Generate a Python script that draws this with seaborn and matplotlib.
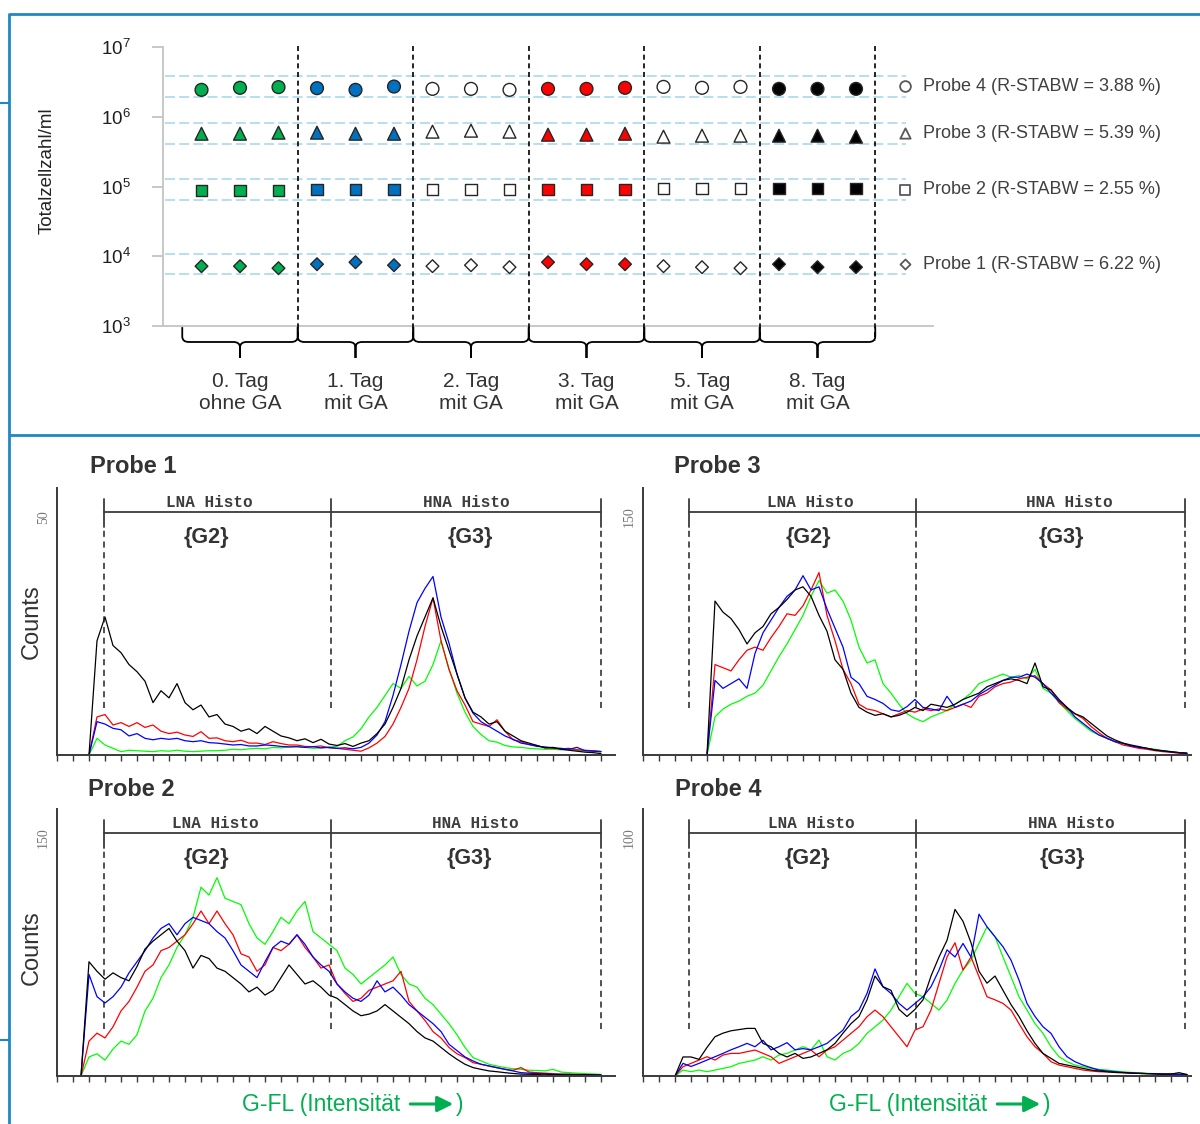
import numpy as np
import pandas as pd
import matplotlib
matplotlib.use("Agg")
import matplotlib.pyplot as plt
import seaborn as sns
from matplotlib.path import Path
from matplotlib.patches import PathPatch

sns.set_theme(style="white")
plt.rcParams["font.family"] = ["Liberation Sans", "DejaVu Sans"]
plt.rcParams["mathtext.fontset"] = "custom"
plt.rcParams["mathtext.rm"] = "Liberation Sans"
plt.rcParams["mathtext.it"] = "Liberation Sans:italic"
plt.rcParams["mathtext.bf"] = "Liberation Sans:bold"

# ---------------------------------------------------------------- data
days = ["0. Tag\nohne GA", "1. Tag\nmit GA", "2. Tag\nmit GA",
        "3. Tag\nmit GA", "5. Tag\nmit GA", "8. Tag\nmit GA"]
day_colors = ["#00b050", "#0070c0", "#ffffff", "#ff0000", "#ffffff", "#000000"]

probes = ["Probe 4", "Probe 3", "Probe 2", "Probe 1"]
rstabw = [3.88, 5.39, 2.55, 6.22]

# total cell counts per ml, three replicates per day
probe4_counts = [2.43e6, 2.60e6, 2.66e6, 2.57e6, 2.43e6, 2.71e6,
                 2.51e6, 2.51e6, 2.43e6, 2.51e6, 2.51e6, 2.60e6,
                 2.68e6, 2.60e6, 2.68e6, 2.51e6, 2.51e6, 2.51e6]
probe3_counts = [5.71e5, 5.71e5, 5.91e5, 5.91e5, 5.71e5, 5.71e5,
                 6.11e5, 6.31e5, 6.11e5, 5.53e5, 5.53e5, 5.71e5,
                 5.18e5, 5.35e5, 5.35e5, 5.35e5, 5.35e5, 5.18e5]
probe2_counts = [8.77e4, 8.77e4, 8.77e4, 9.06e4, 9.06e4, 9.06e4,
                 9.06e4, 9.06e4, 9.06e4, 9.06e4, 9.06e4, 9.06e4,
                 9.36e4, 9.36e4, 9.36e4, 9.36e4, 9.36e4, 9.36e4]
probe1_counts = [7.20e3, 7.20e3, 6.74e3, 7.69e3, 8.21e3, 7.44e3,
                 7.20e3, 7.44e3, 6.97e3, 8.21e3, 7.69e3, 7.69e3,
                 7.20e3, 6.97e3, 6.74e3, 7.69e3, 6.97e3, 6.97e3]
probe_counts = {"Probe 4": probe4_counts, "Probe 3": probe3_counts,
                "Probe 2": probe2_counts, "Probe 1": probe1_counts}

# tolerance band (lower, upper) per sample
band_limits = {"Probe 4": (1.93e6, 3.85e6), "Probe 3": (4.11e5, 8.2e5),
               "Probe 2": (6.5e4, 1.26e5), "Probe 1": (5.53e3, 1.07e4)}

# flow-cytometry histograms (counts per channel)
chan_a = np.arange(16, 273, 4)   # Probe 1, Probe 4
chan_b = np.arange(32, 273, 4)   # Probe 3
chan_c = np.arange(12, 273, 4)   # Probe 2

p1_black = [0, 24, 29, 23, 21.5, 19, 17.5, 15.5, 11, 13.5, 12, 15, 11, 9.5, 10.5, 8, 8.5, 6.5,
            6, 5, 5.5, 4.5, 6, 5, 4, 3.6, 3, 3.4, 2.6, 3.3, 2.3, 2.0, 2.4, 1.8, 2.5,
            3, 4.5, 6.5, 10, 14, 20, 25, 29, 33, 27, 22, 17, 12, 9, 8, 6.5, 7, 5, 4, 3,
            2.5, 2, 1.5, 1.6, 1.2, 1.0, 0.8, 0.6, 0.5, 0.3]
p1_red = [0, 8, 8.5, 6.3, 6.8, 6, 6.8, 5.8, 6.3, 5, 4.5, 4.8, 4.2, 3.9, 4.9, 3.5, 3.6, 3.0,
          2.8, 3.1, 2.5, 2.5, 2.2, 2.8, 2.4, 2.1, 2.1, 1.8, 1.75, 1.9, 1.5, 1.4, 1.2, 1.0, 0.8,
          1.5, 2.5, 3.9, 6.5, 10, 14, 20, 27, 33, 24, 18, 13.5, 10.5, 7, 6.5, 6, 7.4, 5, 3.2,
          2.8, 2.2, 2, 1.5, 1.4, 1.3, 1.4, 1.1, 1.0, 0.9, 0.7]
p1_blue = [0, 7, 6.5, 5.6, 5.3, 4, 4.5, 3.5, 3.2, 3.5, 3.3, 3.5, 3.0, 2.8, 3.0, 2.6, 2.5, 2.3,
           2.1, 2.2, 1.9, 1.9, 2.1, 2.0, 1.8, 1.7, 1.75, 1.6, 1.75, 1.5, 1.6, 1.4, 1.5, 1.3, 1.6,
           2.5, 4.2, 7, 12.5, 19, 26, 32, 35, 37.5, 29, 23.5, 17, 12, 8.8, 7, 6, 5, 4, 3.3,
           2.5, 2.2, 1.8, 1.7, 1.5, 1.4, 1.2, 1.6, 0.9, 0.8, 0.7]
p1_green = [0, 3.5, 2.1, 1.4, 0.7, 1.0, 0.9, 0.8, 0.7, 0.9, 0.8, 1.0, 0.8, 0.7, 0.8, 0.9, 0.9,
            1.0, 1.2, 1.1, 1.3, 1.4, 1.3, 1.6, 1.5, 1.7, 1.75, 1.6, 1.4, 1.5, 1.7, 1.8, 3, 3.8,
            5.5, 8, 10, 12.5, 15, 14, 16.5, 14.5, 15.5, 19, 24, 18, 13, 9, 6, 4.3, 3, 2.7, 2.0,
            1.7, 1.6, 1.4, 1.3, 1.2, 1.2, 1.1, 1.2, 1.0, 0.9, 0.9, 0.8]

p3_black = [0, 97, 90, 86, 79, 70, 77, 81, 89, 93, 98, 104, 106, 100, 88, 78, 60, 54, 39, 30,
            27, 25, 26, 24, 25, 27, 30, 28, 32, 31, 30, 32, 35, 37, 39, 43, 45, 47, 48, 47,
            45, 58, 43, 41, 35, 30, 26, 24, 20, 16, 12, 9.5, 7.5, 6.3, 5.3, 4.2, 3.2, 2.7, 2.1,
            1.5, 1.2]
p3_red = [0, 57, 55, 53, 60, 66, 68, 66, 74, 81, 89, 88, 94, 104, 115, 88, 72, 54, 45, 32,
          29, 28, 26, 24, 26, 28, 27, 29, 28, 29, 28, 30, 32, 30, 37, 39, 43, 45, 46, 48,
          49, 50, 45, 41, 33, 29, 26, 23, 18, 14, 10.5, 8.4, 6.3, 5.3, 4.2, 3.6, 2.7, 2.1, 1.7,
          1.1, 1.0]
p3_blue = [0, 47, 42, 45, 48, 42, 64, 77, 85, 93, 100, 104, 113, 104, 106, 92, 80, 68, 49, 45,
           37, 35, 32.5, 28.5, 27.5, 30.5, 35, 30, 29, 28, 37, 30, 32, 34, 38, 41, 44, 47, 49, 49,
           51, 49, 45, 39, 34, 30, 24, 20, 16, 12.6, 10.5, 8.4, 7.4, 5.7, 4.8, 4.2, 3.2, 2.5,
           1.9, 1.5, 1.0]
p3_green = [0, 24, 29, 32, 34, 37, 39, 44, 53, 62, 70, 79, 88, 100, 110, 102, 104, 97, 85, 68,
            58, 60, 45, 39, 32, 26, 23, 21, 24, 26, 28, 32, 35, 39, 45, 47, 49, 51, 49, 50,
            48, 54, 42, 39, 33, 28, 23, 19, 15, 12.6, 10.5, 8.4, 7, 5.7, 4.8, 4.2, 3.6, 2.7,
            2.1, 1.5, 1.0]

p2_black = [0, 72, 66, 61, 65, 62, 60, 69, 80, 85, 89, 93, 85, 79, 68, 76, 74, 68, 66, 62,
            58, 53, 56, 51, 54, 62, 70, 64, 58, 60, 56, 51, 49, 45, 41, 38, 39, 41, 45, 41,
            37, 33, 28, 24, 22, 18, 14, 10.5, 7.4, 5.3, 4.2, 3.2, 2.7, 2.1, 1.6, 1.2, 1.1, 1.0,
            1.2, 0.8, 0.9, 1.0, 0.7, 0.8, 0.6, 0.6]
p2_blue = [0, 64, 50, 46, 50, 56, 65, 72, 79, 87, 93, 96, 89, 96, 100, 98, 96, 91, 87, 79,
           70, 66, 62, 72, 81, 85, 83, 89, 83, 75, 70, 66, 58, 53, 49, 47, 51, 60, 53, 56,
           51, 45, 41, 37, 33, 28, 20, 16, 12, 9.5, 7.4, 6.3, 5.2, 4.2, 3.2, 2.1, 1.8, 1.5,
           1.3, 1.1, 1.0, 1.0, 0.9, 0.8, 0.7, 0.6]
p2_red = [0, 22, 27, 24, 31, 41, 47, 56, 66, 70, 79, 81, 85, 89, 96, 104, 96, 104, 96, 89,
          77, 75, 66, 70, 81, 79, 83, 89, 81, 75, 68, 70, 58, 52, 47, 49, 54, 56, 58, 60,
          66, 47, 41, 35, 28, 24, 18, 14, 11.6, 8.4, 7.4, 6.3, 5.3, 4.2, 3.6, 5.3, 2.5, 2.1,
          1.8, 1.5, 1.2, 1.0, 1.0, 0.9, 0.7, 0.6]
p2_green = [0, 12, 14, 10, 17, 22, 20, 26, 41, 49, 62, 70, 81, 89, 100, 119, 114, 125, 112, 110,
            108, 96, 87, 83, 91, 100, 96, 104, 110, 91, 87, 83, 79, 68, 64, 58, 62, 66, 70, 75,
            64, 58, 56, 49, 45, 39, 33, 26, 18, 11.6, 9.5, 7.4, 6.3, 5.3, 4.6, 4.2, 3.6, 3.5,
            3.2, 4.2, 2.5, 2.1, 1.8, 1.5, 1.3, 1.0]

p4_black = [0, 8, 8, 7, 12, 16.5, 18, 19, 19.5, 20, 20, 13.7, 12.3, 9.5, 8, 9.5, 7.4, 8, 9.5, 11,
            13.7, 18, 22, 25, 32, 42, 37.5, 36, 28, 25, 28, 32, 42, 50, 57, 70, 65, 56, 44, 39,
            42, 36, 30, 25, 19, 13.7, 9.5, 7.4, 5.3, 4.6, 3.9, 3.2, 2.5, 2.1, 1.8, 1.5, 1.4,
            1.2, 1.1, 1.0, 0.8, 0.8, 0.8, 1.4, 0.6]
p4_blue = [0, 5.3, 4, 5.3, 6.7, 8.1, 9.5, 11, 12.3, 13.7, 12.3, 15, 11, 12.3, 14, 11, 11.5, 11,
           12.3, 13.7, 16.5, 19.3, 25, 27.7, 34.7, 45, 37.5, 34.7, 30.5, 27.7, 30.5, 33.3, 37.5,
           44.5, 53, 50, 55.7, 50, 68, 62.7, 58.5, 54.3, 48.7, 40.3, 30.5, 25, 20.7, 17.9, 12.3,
           8.1, 6, 4.6, 3.5, 2.5, 2.1, 1.8, 1.5, 1.3, 1.1, 1.0, 1.0, 0.8, 0.8, 0.6, 0.6]
p4_red = [0, 3.9, 5.3, 6.7, 8.1, 6.7, 8.8, 9.5, 9.5, 10.2, 10.9, 9.5, 8.1, 5.3, 6.7, 8.1, 9.5,
          10.9, 8.1, 10.9, 12.3, 15.1, 17.9, 20.7, 24.9, 27.7, 24.9, 20.7, 16.5, 12.3, 19.3, 20.7,
          27.7, 38.9, 50, 56, 44.5, 50, 41.7, 33.3, 32, 30.5, 27.7, 22, 16.5, 12.3, 9.5, 6, 4.6,
          3.9, 3.2, 2.5, 2.1, 1.8, 1.7, 1.5, 1.4, 1.2, 1.1, 1.0, 1.0, 0.8, 0.8, 0.7, 0.6]
p4_green = [0, 2.5, 1.8, 2.5, 1.8, 2.5, 3.2, 3.9, 5.3, 6, 6.7, 8.1, 6.7, 8.8, 9.5, 10.9, 12.3, 11,
            15.1, 8.1, 6.7, 9.5, 10.9, 13.7, 17.9, 20.7, 23.5, 27.7, 33.3, 38.9, 34.7, 33.3, 30.5,
            27.7, 31.9, 38.9, 44.5, 48.7, 55.7, 62.7, 58.5, 50, 41.7, 33.3, 27.7, 22, 17.9, 12.3,
            8.1, 6, 4.6, 3.9, 3.2, 2.8, 2.5, 2.1, 1.8, 1.5, 1.4, 1.1, 1.0, 0.9, 0.8, 0.8, 0.6]

# ---------------------------------------------------------------- figure helpers
W, H = 1200, 1124
fig = plt.figure(figsize=(W / 100, H / 100), dpi=100)
fig.patch.set_facecolor("white")


def px_axes(x0, y0, x1, y1):
    return fig.add_axes([x0 / W, 1 - y1 / H, (x1 - x0) / W, (y1 - y0) / H])


def ftext(x, y, s, **kw):
    return fig.text(x / W, 1 - y / H, s, **kw)


FRAME_BLUE = "#1e88c4"
CAPTION_GREEN = "#00b050"
TXT = "#333333"

# ---------------------------------------------------------------- cell count chart
ax = px_axes(163, 47, 933, 326)
ax.set_yscale("log")

rows = []
for probe in probes:
    for i, val in enumerate(probe_counts[probe]):
        g, k = divmod(i, 3)
        rows.append({"pos": g * 3 + k + 1, "count": val, "probe": probe, "day": days[g]})
df = pd.DataFrame(rows)

marker_map = {"Probe 4": "o", "Probe 3": "^", "Probe 2": "s", "Probe 1": "D"}
size_map = {"Probe 4": 85, "Probe 3": 85, "Probe 2": 70, "Probe 1": 42}
sns.scatterplot(data=df, x="pos", y="count", hue="day", palette=dict(zip(days, day_colors)),
                style="probe", markers=marker_map, size="probe", sizes=size_map,
                edgecolor="#262626", linewidth=1.0, legend=False, ax=ax, zorder=4)

ax.set_xlim(0, 20)
ax.set_ylim(1e3, 1e7)
ax.set_xticks([])
ax.set_yticks([1e3, 1e4, 1e5, 1e6, 1e7])
ax.set_yticklabels([r"$10^{3}$", r"$10^{4}$", r"$10^{5}$", r"$10^{6}$", r"$10^{7}$"])
ax.yaxis.set_minor_locator(matplotlib.ticker.NullLocator())
ax.tick_params(axis="y", length=8, width=1.2, color="#bfbfbf", pad=15,
               labelsize=13.5, labelcolor="#1e1e1e", left=True)
ax.set_xlabel("")
ax.set_ylabel("")
for side in ["top", "right"]:
    ax.spines[side].set_visible(False)
for side in ["left", "bottom"]:
    ax.spines[side].set_color("#c4c4c4")
    ax.spines[side].set_linewidth(1.3)

# tolerance bands and sample labels
legend_markers = {"Probe 4": ("o", 60), "Probe 3": ("^", 55), "Probe 2": ("s", 58), "Probe 1": ("D", 26)}
for probe, rs in zip(probes, rstabw):
    lo, hi = band_limits[probe]
    for v in (lo, hi):
        ax.plot([0.05, 19.3], [v, v], ls=(0, (6, 2.5)), color="#a9d9ef", lw=1.2,
                clip_on=False, zorder=2)
    yc = np.sqrt(lo * hi)
    m, s = legend_markers[probe]
    ax.scatter([19.27], [yc], marker=m, s=s, facecolor="white", edgecolor="#595959",
               linewidth=1.3, clip_on=False, zorder=4)
    ax.text(19.74, yc, f"{probe} (R-STABW = {rs:.2f} %)", ha="left", va="center",
            fontsize=13, color="#404040", clip_on=False)

# day separators, braces and day labels
xt = ax.get_xaxis_transform()
for g in range(1, 7):
    b = g * 3 + 0.5
    ax.plot([b, b], [1.004, -0.052], transform=xt, ls=(0, (3, 2.2)), color="black",
            lw=1.2, clip_on=False, zorder=3)

y_top, y_mid, y_tip, dy, r = -0.004, -0.0573, -0.1147, 0.02, 0.17
for g, day in enumerate(days):
    xa = g * 3 + 0.5
    xb = xa + 3
    xm = xa + 1.5
    verts = [(xa, y_top), (xa, y_mid + dy), (xa, y_mid), (xa + r, y_mid),
             (xm - r, y_mid), (xm, y_mid), (xm, y_mid - dy), (xm, y_tip),
             (xm, y_mid - dy), (xm, y_mid), (xm + r, y_mid),
             (xb - r, y_mid), (xb, y_mid), (xb, y_mid + dy), (xb, y_top)]
    codes = [Path.MOVETO, Path.LINETO, Path.CURVE3, Path.CURVE3,
             Path.LINETO, Path.CURVE3, Path.CURVE3, Path.LINETO,
             Path.LINETO, Path.CURVE3, Path.CURVE3,
             Path.LINETO, Path.CURVE3, Path.CURVE3, Path.LINETO]
    ax.add_patch(PathPatch(Path(verts, codes), transform=xt, fill=False, edgecolor="black",
                           lw=1.3, clip_on=False))
    ax.text(xm, -0.238, day, transform=xt, ha="center", va="center", fontsize=15,
            linespacing=1.2, color=TXT)

ftext(47, 171, "Totalzellzahl/ml", rotation=90, ha="center", va="center", fontsize=13.5,
      color="#222222")

# ---------------------------------------------------------------- histograms
LINE_COLORS = {"green": "#00ff00", "red": "#ff0000", "blue": "#0000ff", "black": "#000000"}
YSPAN = 267 / 238


def histo_panel(rect, xmax, tick, chans, curves, gates, txt_pos, title, title_xy):
    hx = px_axes(*rect)
    for name in ["green", "red", "blue", "black"]:
        sns.lineplot(x=chans, y=curves[name], color=LINE_COLORS[name], linewidth=0.9,
                     ax=hx, estimator=None, sort=False, legend=False)
    hx.set_xlim(0, xmax)
    hx.set_ylim(0, tick * YSPAN)
    hx.set_xlabel("")
    hx.set_ylabel("")
    for side in ["top", "right"]:
        hx.spines[side].set_visible(False)
    for side in ["left", "bottom"]:
        hx.spines[side].set_color("#3a3a3a")
        hx.spines[side].set_linewidth(1.4)
    hx.set_xticks(np.arange(0, xmax + 0.1, 8))
    hx.set_xticklabels([])
    hx.tick_params(axis="x", bottom=True, length=4, width=1.0, color="#3a3a3a", direction="out")
    hx.set_yticks([tick])
    hx.set_yticklabels([str(tick)])
    hx.tick_params(axis="y", left=False, length=0, pad=5, labelsize=10, labelcolor="#777777")
    for lab in hx.get_yticklabels():
        lab.set_rotation(90)
        lab.set_family("Liberation Serif")
        lab.set_va("center")

    gt = hx.get_xaxis_transform()
    g0, g1, g2 = gates
    hx.plot([g0, g2], [0.910, 0.910], transform=gt, color="#3a3a3a", lw=1.3, clip_on=False)
    for gx in gates:
        hx.plot([gx, gx], [0.854, 0.959], transform=gt, color="#3a3a3a", lw=1.3, clip_on=False)
        hx.plot([gx, gx], [0.175, 0.854], transform=gt, color="#222222", lw=1.1,
                ls=(0, (4, 3)), clip_on=False)
    lna_x, hna_x, g2_x, g3_x = txt_pos
    mono = dict(family="Liberation Mono", weight="bold", fontsize=11.5, color="#3d3d3d",
                ha="center", va="center")
    hx.text(lna_x, 0.946, "LNA Histo", transform=gt, **mono)
    hx.text(hna_x, 0.946, "HNA Histo", transform=gt, **mono)
    hx.text(g2_x, 0.816, "{G2}", transform=gt, ha="center", va="center", fontsize=15.5,
            weight="bold", color=TXT)
    hx.text(g3_x, 0.816, "{G3}", transform=gt, ha="center", va="center", fontsize=15.5,
            weight="bold", color=TXT)
    ftext(title_xy[0], title_xy[1], title, ha="left", va="center", fontsize=17,
          weight="bold", color=TXT)
    return hx


histo_panel((57, 488, 615, 755), 279, 50, chan_a,
            {"black": p1_black, "red": p1_red, "blue": p1_blue, "green": p1_green},
            (23.3, 137.2, 272), (76, 204.5, 74.5, 206.5), "Probe 1", (90, 466))
histo_panel((643, 488, 1191, 755), 274, 150, chan_b,
            {"black": p3_black, "red": p3_red, "blue": p3_blue, "green": p3_green},
            (23.2, 136.4, 271), (83.5, 213, 82.5, 209), "Probe 3", (674, 466))
histo_panel((57, 809, 615, 1076), 279, 150, chan_c,
            {"black": p2_black, "red": p2_red, "blue": p2_blue, "green": p2_green},
            (23.5, 137.2, 272), (79, 209, 74.6, 206), "Probe 2", (88, 789))
histo_panel((643, 809, 1191, 1076), 274, 100, chan_a,
            {"black": p4_black, "red": p4_red, "blue": p4_blue, "green": p4_green},
            (23.1, 136.3, 271), (84, 214, 82, 209.5), "Probe 4", (675, 790))

ftext(32, 622, "Counts", rotation=90, ha="center", va="center", fontsize=17, color=TXT)
ftext(32, 948, "Counts", rotation=90, ha="center", va="center", fontsize=17, color=TXT)

# ---------------------------------------------------------------- overlay: frame and captions
ov = fig.add_axes([0, 0, 1, 1], zorder=20)
ov.set_xlim(0, W)
ov.set_ylim(H, 0)
ov.set_axis_off()

ov.plot([8.5, W], [14, 14], color=FRAME_BLUE, lw=2.0, solid_capstyle="butt")
ov.plot([8.5, 8.5], [13, H], color=FRAME_BLUE, lw=2.0, solid_capstyle="butt")
ov.plot([8.5, W], [435, 435], color=FRAME_BLUE, lw=2.0, solid_capstyle="butt")
ov.plot([0, 8.5], [103, 103], color=FRAME_BLUE, lw=1.5, solid_capstyle="butt")
ov.plot([0, 8.5], [1040, 1040], color=FRAME_BLUE, lw=1.5, solid_capstyle="butt")

renderer = fig.canvas.get_renderer()
for x_left in (242, 829):
    t = ov.text(x_left, 1104, "G-FL (Intensität", ha="left", va="center", fontsize=16.5,
                color=CAPTION_GREEN)
    bb = t.get_window_extent(renderer=renderer)
    x_end = bb.x1
    ov.annotate("", xy=(x_end + 53, 1104), xytext=(x_end + 10, 1104),
                arrowprops=dict(arrowstyle="-|>,head_length=0.68,head_width=0.34",
                                lw=2.2, color=CAPTION_GREEN, shrinkA=0, shrinkB=0,
                                mutation_scale=14))
    ov.text(x_end + 56, 1104, ")", ha="left", va="center", fontsize=16.5, color=CAPTION_GREEN)

fig.savefig("out.png", dpi=100, facecolor="white")
